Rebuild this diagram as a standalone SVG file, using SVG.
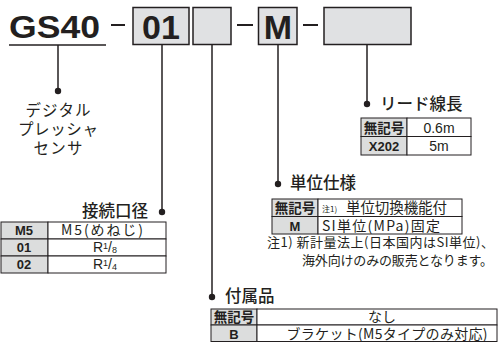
<svg xmlns="http://www.w3.org/2000/svg" width="499" height="344" viewBox="0 0 499 344">
<style>
.code{font-family:"Liberation Sans",Arial,sans-serif;font-weight:bold;fill:#231f20}
.box{fill:#e0e1e3;stroke:#231f20;stroke-width:1.5}
.dash{stroke:#231f20;stroke-width:2}
.ln{stroke:#231f20;stroke-width:1.5;fill:none}
.dot{fill:#231f20}
.jp{font-family:"Noto Sans CJK JP","Noto Sans",sans-serif;fill:#231f20}
.lbl{font-size:16.5px;font-weight:500}
.hd{fill:#dcdddd;stroke:#231f20;stroke-width:1}
.cl{fill:#fff;stroke:#231f20;stroke-width:1}
.th{font-family:"Liberation Sans","Noto Sans CJK JP",sans-serif;font-weight:bold;font-size:13px;fill:#231f20;text-anchor:middle}
.thj{font-family:"Noto Sans CJK JP",sans-serif;font-weight:bold;font-size:13.5px;fill:#231f20;text-anchor:middle}
.td{font-family:"Liberation Sans","Noto Sans CJK JP",sans-serif;font-size:14px;fill:#231f20;text-anchor:middle}
.tdj{font-family:"Noto Sans CJK JP",sans-serif;font-size:14px;fill:#231f20;text-anchor:middle}
.note{font-family:"Noto Sans CJK JP",sans-serif;font-size:13px;fill:#231f20}
</style>

<g id="code">
<text class="code" x="9" y="38" font-size="32" textLength="91" lengthAdjust="spacingAndGlyphs">GS40</text>
<line class="ln" x1="9" y1="45" x2="106" y2="45"/>
<line class="dash" x1="111" y1="25" x2="125" y2="25"/>
<line class="dash" x1="237" y1="25" x2="253" y2="25"/>
<line class="dash" x1="303" y1="25" x2="318" y2="25"/>
</g>

<g id="box-port">
<rect class="box" x="133" y="7.5" width="56" height="37"/>
<text class="code" x="161" y="39" font-size="34" text-anchor="middle">01</text>
</g>
<g id="box-acc">
<rect class="box" x="193" y="7.5" width="38" height="37"/>
</g>
<g id="box-unit">
<rect class="box" x="258.5" y="7.5" width="38.5" height="37"/>
<text class="code" x="278" y="39" font-size="34" text-anchor="middle">M</text>
</g>
<g id="box-lead">
<rect class="box" x="324" y="7.5" width="87" height="37"/>
</g>

<g id="connectors">
<line class="ln" x1="58" y1="45" x2="58" y2="91"/>
<circle class="dot" cx="58" cy="91" r="3.2"/>
<line class="ln" x1="162" y1="45" x2="162" y2="212"/>
<circle class="dot" cx="162" cy="212" r="3.2"/>
<line class="ln" x1="212" y1="45" x2="212" y2="297"/>
<circle class="dot" cx="212" cy="297" r="3.2"/>
<line class="ln" x1="278" y1="45" x2="278" y2="184"/>
<circle class="dot" cx="278" cy="184" r="3.2"/>
<line class="ln" x1="367" y1="45" x2="367" y2="104"/>
<circle class="dot" cx="367" cy="104" r="3.2"/>
</g>

<g id="desc-product">
<text class="jp" font-size="15.5" text-anchor="middle" x="58" y="116" textLength="65">デジタル</text>
<text class="jp" font-size="15.5" text-anchor="middle" x="58" y="135" textLength="80">プレッシャ</text>
<text class="jp" font-size="15.5" text-anchor="middle" x="58" y="154" textLength="49">センサ</text>
</g>

<g id="port">
<text class="jp lbl" x="148" y="217" text-anchor="end">接続口径</text>
<rect class="hd" x="1" y="222" width="47" height="17"/>
<rect class="cl" x="48" y="222" width="118" height="17"/>
<rect class="hd" x="1" y="239" width="47" height="17"/>
<rect class="cl" x="48" y="239" width="118" height="17"/>
<rect class="hd" x="1" y="256" width="47" height="17"/>
<rect class="cl" x="48" y="256" width="118" height="17"/>
<text class="th" x="24" y="235">M5</text>
<text class="th" x="24" y="252">01</text>
<text class="th" x="24" y="269">02</text>
<text class="tdj" x="102" y="235" textLength="82">M5(めねじ)</text>
<text class="td" x="105" y="252">R<tspan font-size="9" dy="-3">1</tspan><tspan dy="3">/</tspan><tspan font-size="9" dy="1">8</tspan></text>
<text class="td" x="105" y="269">R<tspan font-size="9" dy="-3">1</tspan><tspan dy="3">/</tspan><tspan font-size="9" dy="1">4</tspan></text>
</g>

<g id="lead">
<text class="jp lbl" x="380" y="110">リード線長</text>
<rect class="hd" x="361" y="118" width="46" height="18.5"/>
<rect class="cl" x="407" y="118" width="64" height="18.5"/>
<rect class="hd" x="361" y="136.5" width="46" height="18.5"/>
<rect class="cl" x="407" y="136.5" width="64" height="18.5"/>
<text class="thj" x="384" y="132.5">無記号</text>
<text class="th" x="384" y="151">X202</text>
<text class="td" x="439" y="132.5" font-size="15">0.6m</text>
<text class="td" x="439" y="151" font-size="15">5m</text>
</g>

<g id="unit">
<text class="jp lbl" x="290" y="189">単位仕様</text>
<rect class="hd" x="272" y="199" width="46" height="17.5"/>
<rect class="cl" x="318" y="199" width="144" height="17.5"/>
<rect class="hd" x="272" y="216.5" width="46" height="17.5"/>
<rect class="cl" x="318" y="216.5" width="144" height="17.5"/>
<text class="thj" x="295" y="212.5">無記号</text>
<text class="th" x="295" y="230.5">M</text>
<text class="jp" x="322" y="212" font-size="8">注1)</text>
<text class="jp" x="346" y="213" font-size="14.5" textLength="101">単位切換機能付</text>
<text class="tdj" x="381" y="230.5" textLength="118">SI単位(MPa)固定</text>
<text class="note" x="267" y="247" textLength="227">注1) 新計量法上(日本国内はSI単位)、</text>
<text class="note" x="302" y="265" textLength="191">海外向けのみの販売となります。</text>
</g>

<g id="accessory">
<text class="jp lbl" x="225" y="302">付属品</text>
<rect class="hd" x="211" y="309" width="46" height="16"/>
<rect class="cl" x="257" y="309" width="240" height="16"/>
<rect class="hd" x="211" y="325" width="46" height="16.5"/>
<rect class="cl" x="257" y="325" width="240" height="16.5"/>
<text class="thj" x="234" y="321.5" font-size="13">無記号</text>
<text class="th" x="234" y="338.5">B</text>
<text class="tdj" x="382" y="321.5" font-size="13.5">なし</text>
<text class="tdj" x="387" y="338.5" font-size="13.5" textLength="201">ブラケット(M5タイプのみ対応)</text>
</g>
</svg>
